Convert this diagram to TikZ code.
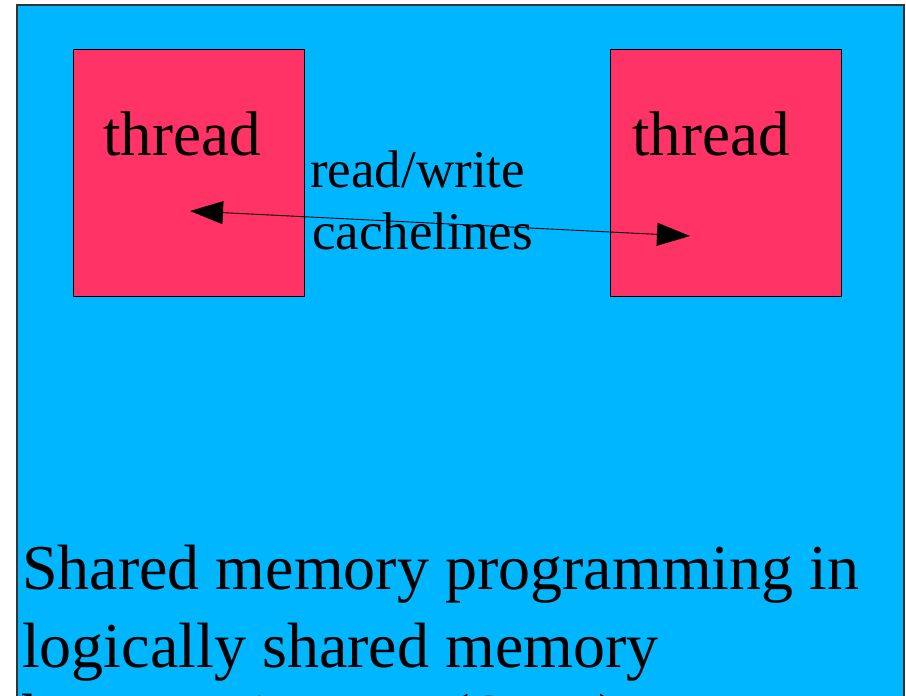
\documentclass[tikz,border=0pt]{standalone}
\usepackage{fontspec}
\setmainfont{Liberation Serif}
\usetikzlibrary{arrows.meta}
\definecolor{memblue}{RGB}{0,183,255}
\definecolor{threadred}{RGB}{255,51,102}
\tikzset{
  threadbox/.style={draw=black, line width=0.8pt, fill=threadred,
    minimum width=231pt, minimum height=247pt, inner sep=0pt},
  bigtext/.style={anchor=base west, inner sep=0pt, font=\fontsize{63}{70}\selectfont},
  labeltext/.style={anchor=base west, inner sep=0pt, font=\fontsize{53}{60}\selectfont},
  captiontext/.style={anchor=base west, inner sep=0pt, font=\fontsize{64}{78}\selectfont},
  rwarrow/.style={line width=0.9pt, {Triangle[length=33pt,width=23pt]}-{Triangle[length=33pt,width=23pt]}}
}
\begin{document}
\begin{tikzpicture}[x=1pt, y=-1pt]
  \useasboundingbox (0,0) rectangle (906,696);
  \clip (0,0) rectangle (906,696);
  % shared memory area
  \fill[white] (0,0) rectangle (906,696);
  \draw[fill=memblue, draw=black!80, line width=1.5pt] (17,5) rectangle (904,760);
  % threads
  \node[threadbox] (t1) at (188.5,172.5) {};
  \node[threadbox] (t2) at (725.5,172.5) {};
  \node[bigtext] (t1label) at (103,155) {thread};
  \node[bigtext] (t2label) at (632,155) {thread};
  % access between the threads
  \node[labeltext] (rw) at (310,187) {read/write};
  \node[labeltext] (cl) at (312,249) {cachelines};
  \coordinate (pL) at (190,211);
  \coordinate (pR) at (690,236);
  \draw[rwarrow] (pL) -- (pR);
  % caption, running past the lower edge
  \node[captiontext] (c1) at (22,589) {Shared memory programming in};
  \node[captiontext] (c2) at (22,667) {logically shared memory};
  \node[captiontext] (c3) at (22,738) {between images (SMP)};
\end{tikzpicture}
\end{document}
